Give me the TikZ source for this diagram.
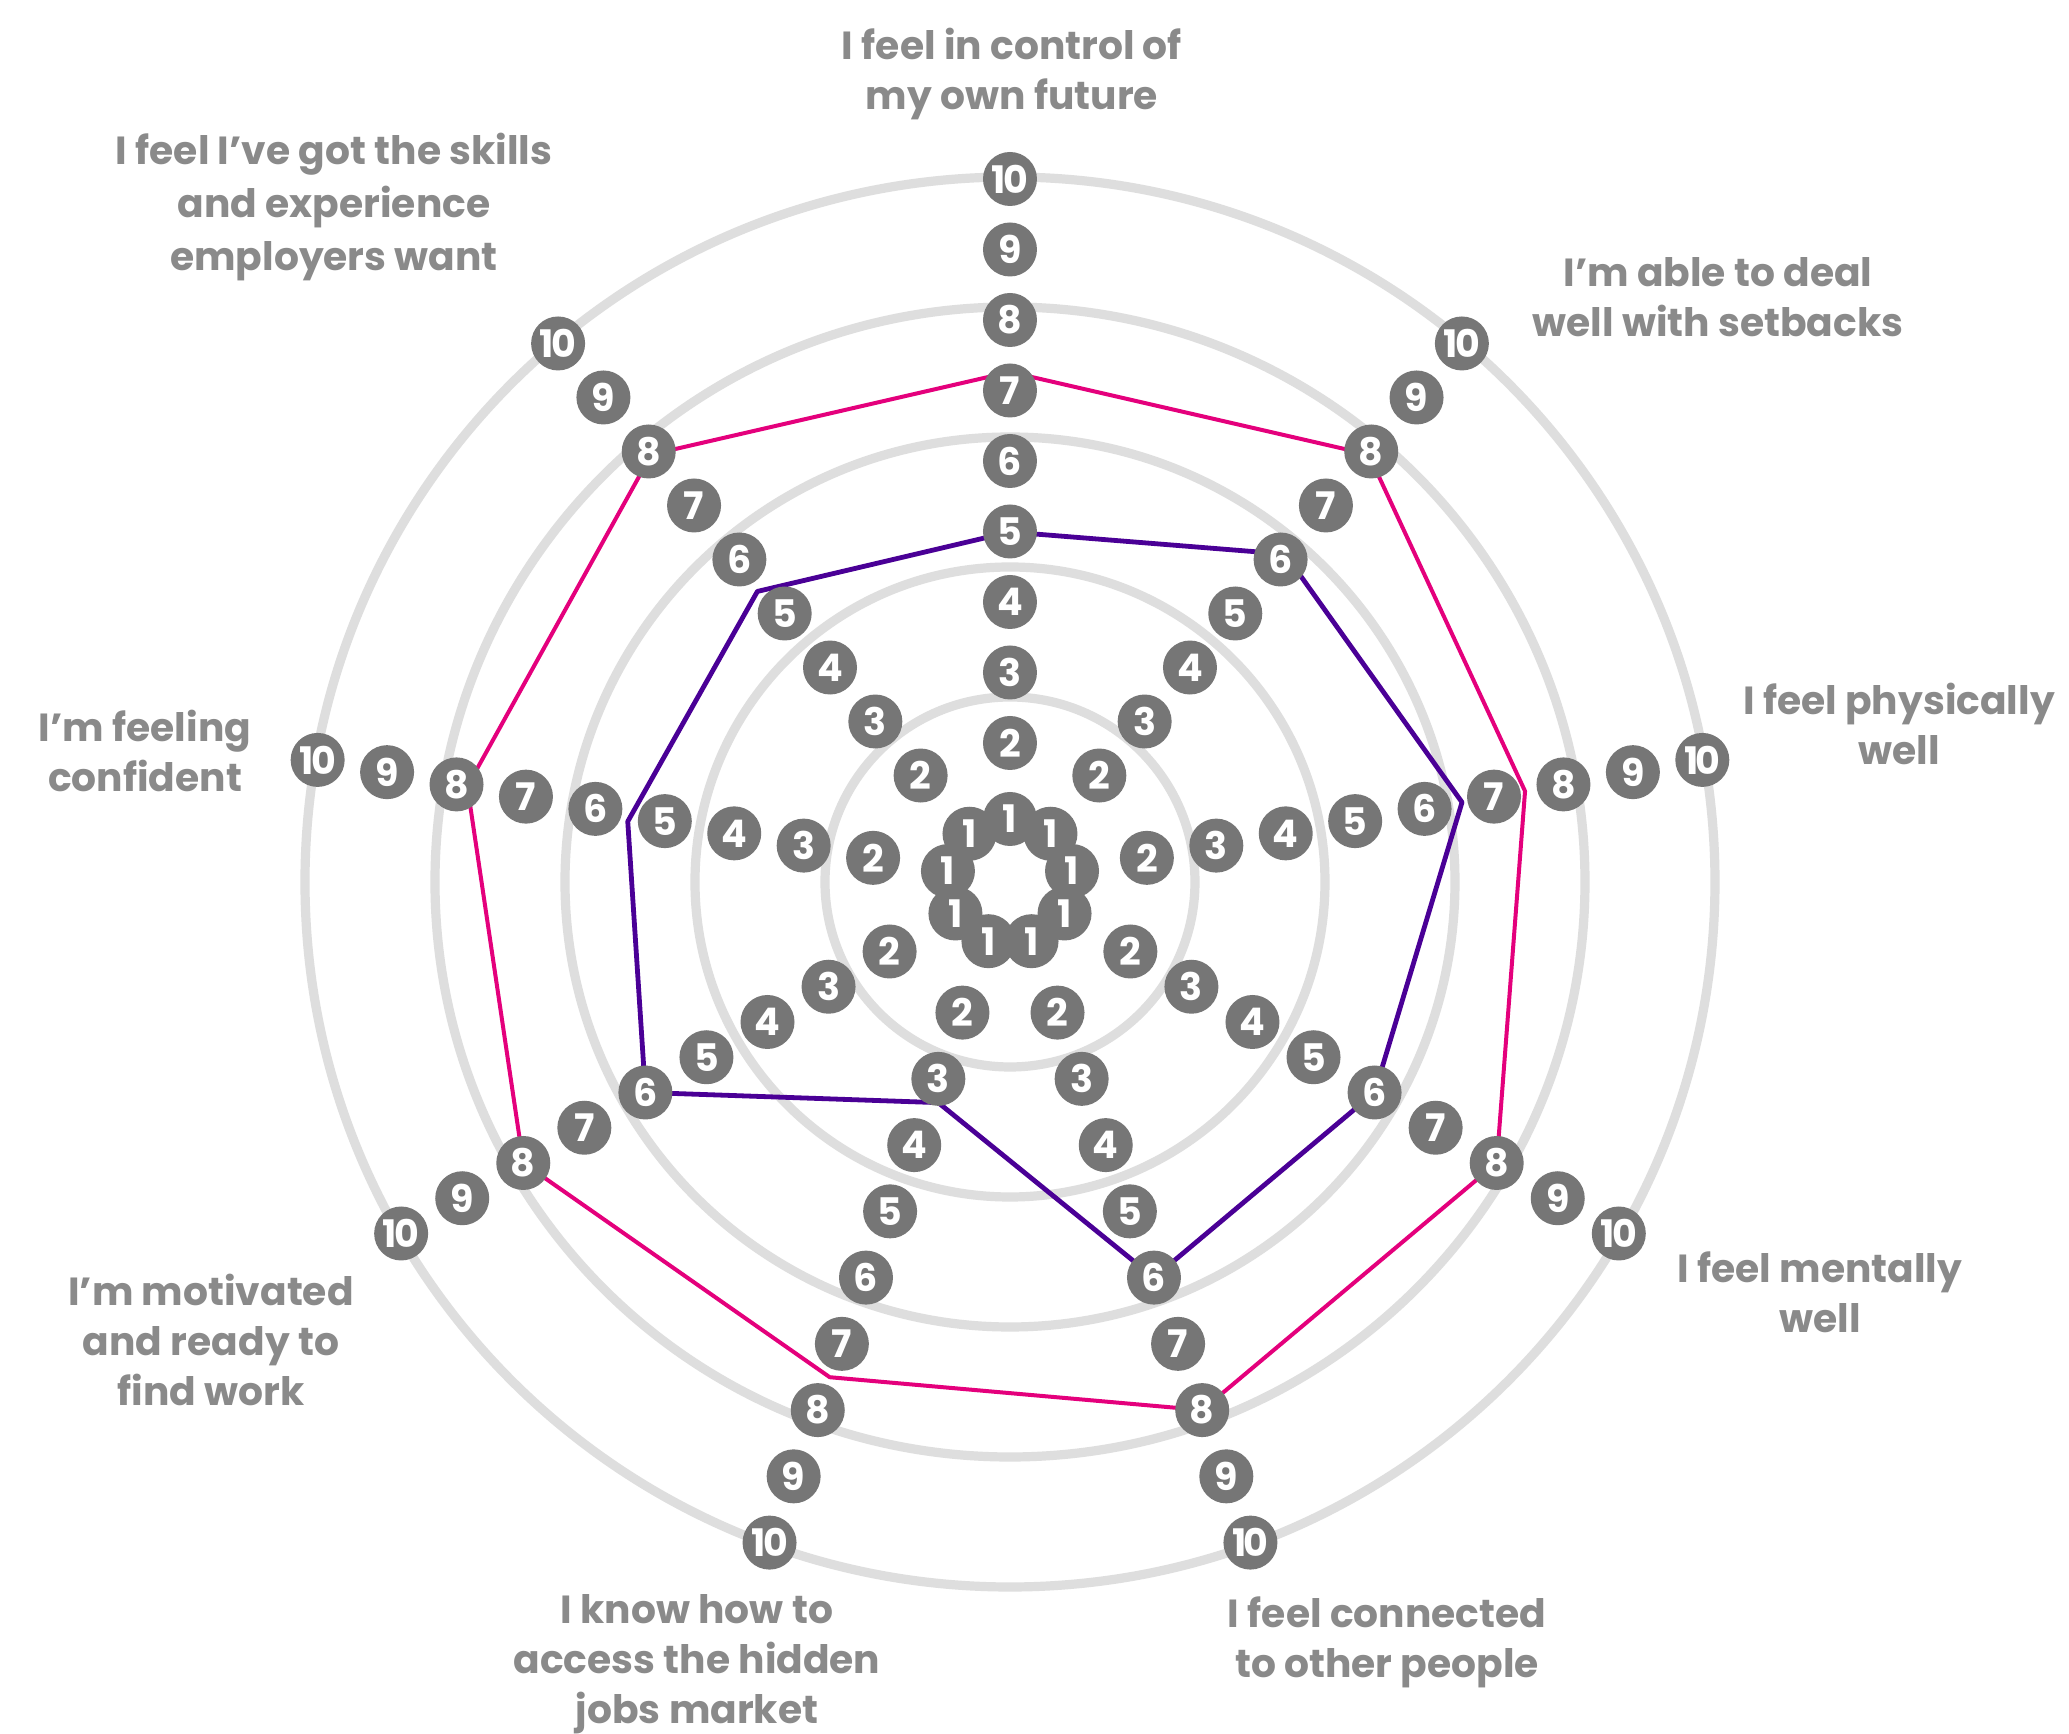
\documentclass[tikz,border=0pt]{standalone}
\usepackage{fontspec}
\setmainfont{Poppins}
\definecolor{badgegray}{RGB}{118,118,118}
\definecolor{labgray}{RGB}{138,138,138}
\definecolor{ringgray}{RGB}{222,222,222}
\definecolor{pinkc}{RGB}{228,0,124}
\definecolor{purpc}{RGB}{74,0,150}
\tikzset{
  ring/.style={draw=ringgray, line width=4.6pt},
  badge/.style={circle, fill=badgegray, text=white, minimum size=27pt, inner sep=0pt,
    font=\bfseries\fontsize{19}{19}\selectfont},
  lab/.style={align=center, text=labgray, inner sep=0pt,
    font=\bfseries\fontsize{19.6}{25}\selectfont},
  pinkline/.style={draw=pinkc, line width=2pt, line join=round},
  purpline/.style={draw=purpc, line width=2.4pt, line join=round}
}
\begin{document}
\begin{tikzpicture}[x=0.5pt,y=0.5pt]
\useasboundingbox[fill=white] (-1010,-852) rectangle (1059,882);
\coordinate (c) at (0,0);
% rings
\foreach \r in {92.5,157.5,222.5,287.5,352.5}
  \draw[ring] (c) circle[radius=\r pt];
% pink polygon
\coordinate (p0) at (90:510);
\coordinate (p1) at (50:558);
\coordinate (p2) at (10:523);
\coordinate (p3) at (-30:562);
\coordinate (p4) at (-70:562);
\coordinate (p5) at (-110:527);
\coordinate (p6) at (-150:562);
\coordinate (p7) at (170:551);
\coordinate (p8) at (130:558);
\draw[pinkline] (p0) -- (p1) -- (p2) -- (p3) -- (p4) -- (p5) -- (p6) -- (p7) -- (p8) -- cycle;
% purple polygon
\coordinate (q0) at (90:350);
\coordinate (q1) at (50:428);
\coordinate (q2) at (10:459);
\coordinate (q3) at (-30:421);
\coordinate (q4) at (-70:421);
\coordinate (q5) at (-108:232);
\coordinate (q6) at (-150:421);
\coordinate (q7) at (171:387);
\coordinate (q8) at (131:385);
\draw[purpline] (q0) -- (q1) -- (q2) -- (q3) -- (q4) -- (q5) -- (q6) -- (q7) -- (q8) -- cycle;
% badges
\foreach \i in {0,...,8}{
  \pgfmathsetmacro\ang{90-40*\i}
  \node[badge] (b\i-1) at (\ang:63) {1};
  \foreach \k in {2,...,10}{
    \pgfmathsetmacro\rad{70.5*\k-2}
    \node[badge] (b\i-\k) at (\ang:\rad)
      {\ifnum\k=10 \addfontfeature{LetterSpace=-7}10\else\k\fi};
  }
}
% labels
\node[lab] (l0) at (2,808) {I feel in control of\\my own future};
\node[lab] (l1) at (708,585) {I’m able to deal\\well with setbacks};
\node[lab] (l2) at (889,158) {I feel physically\\well};
\node[lab] (l3) at (810,-410) {I feel mentally\\well};
\node[lab] (l4) at (377,-760) {I feel connected\\to other people};
\node[lab] (l5) at (-313,-782) {I know how to\\access the hidden\\jobs market};
\node[lab] (l6) at (-799,-458) {I’m motivated\\and ready to\\find work};
\node[lab] (l7) at (-865,131) {I’m feeling\\confident};
\node[lab, font=\bfseries\fontsize{19.6}{26.5}\selectfont] (l8) at (-676,675) {I feel I've got the skills\\and experience\\employers want};
\end{tikzpicture}
\end{document}
